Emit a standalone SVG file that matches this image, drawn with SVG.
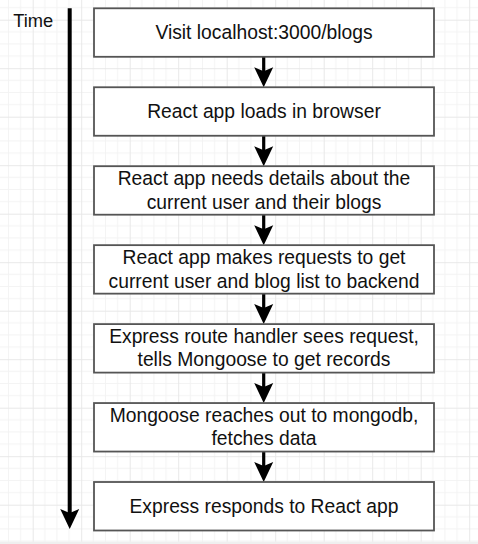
<svg xmlns="http://www.w3.org/2000/svg" width="478" height="544" viewBox="0 0 478 544">
<defs>
<pattern id="grid" patternUnits="userSpaceOnUse" x="32.7" y="19.7" width="48.5" height="48.5">
<path d="M12.125,0V48.5M24.25,0V48.5M36.375,0V48.5M0,12.125H48.5M0,24.25H48.5M0,36.375H48.5" stroke="#f3f3f3" stroke-width="1" fill="none"/>
<path d="M0.5,0V48.5M0,0.5H48.5" stroke="#e8e8e8" stroke-width="1" fill="none"/>
</pattern>
<marker id="arr" markerUnits="userSpaceOnUse" viewBox="-12 -11 24 22" markerWidth="24" markerHeight="22" refX="0" refY="0" orient="auto" overflow="visible">
<path d="M-10,-9.5 L10,0 L-10,9.5 L-6,0 Z" fill="#000"/>
</marker>
<style>
.box{fill:#fff;stroke:#555;stroke-width:1.8}
.lbl{font-family:"Liberation Sans",Arial,Helvetica,sans-serif;font-size:19.3px;fill:#111;text-anchor:middle}
.conn{stroke:#000;stroke-width:3.2;fill:none;marker-end:url(#arr)}
</style>
</defs>
<rect width="478" height="544" fill="#fff"/>
<rect width="478" height="544" fill="url(#grid)"/>
<rect x="0" y="541.5" width="478" height="2.5" fill="#efefef"/>
<g id="time-label">
<text x="13.3" y="26.7" style="font-family:'Liberation Sans',Arial,Helvetica,sans-serif;font-size:18.3px;fill:#111">Time</text>
</g>
<g id="connectors">
<line class="conn" x1="69.7" y1="8.3" x2="69.7" y2="519" style="stroke-width:4"/>
<line class="conn" x1="263.7" y1="56.8" x2="263.7" y2="77.3"/>
<line class="conn" x1="263.7" y1="135.75" x2="263.7" y2="156.2"/>
<line class="conn" x1="263.7" y1="214.7" x2="263.7" y2="235.15"/>
<line class="conn" x1="263.7" y1="293.65" x2="263.7" y2="314.1"/>
<line class="conn" x1="263.7" y1="372.6" x2="263.7" y2="393.05"/>
<line class="conn" x1="263.7" y1="451.55" x2="263.7" y2="472"/>
</g>
<g id="n1">
<rect class="box" x="94" y="8.3" width="340" height="48.5"/>
<text class="lbl" x="264" y="39.05">Visit localhost:3000/blogs</text>
</g>
<g id="n2">
<rect class="box" x="94" y="87.25" width="340" height="48.5"/>
<text class="lbl" x="264" y="118">React app loads in browser</text>
</g>
<g id="n3">
<rect class="box" x="94" y="166.2" width="340" height="48.5"/>
<text class="lbl" x="264" y="185.25">React app needs details about the</text>
<text class="lbl" x="264" y="208.55">current user and their blogs</text>
</g>
<g id="n4">
<rect class="box" x="94" y="245.15" width="340" height="48.5"/>
<text class="lbl" x="264" y="264.2">React app makes requests to get</text>
<text class="lbl" x="264" y="287.5">current user and blog list to backend</text>
</g>
<g id="n5">
<rect class="box" x="94" y="324.1" width="340" height="48.5"/>
<text class="lbl" x="264" y="343.15">Express route handler sees request,</text>
<text class="lbl" x="264" y="366.45">tells Mongoose to get records</text>
</g>
<g id="n6">
<rect class="box" x="94" y="403.05" width="340" height="48.5"/>
<text class="lbl" x="264" y="422.1">Mongoose reaches out to mongodb,</text>
<text class="lbl" x="264" y="445.4">fetches data</text>
</g>
<g id="n7">
<rect class="box" x="94" y="482" width="340" height="48.5"/>
<text class="lbl" x="264" y="512.75">Express responds to React app</text>
</g>
</svg>
